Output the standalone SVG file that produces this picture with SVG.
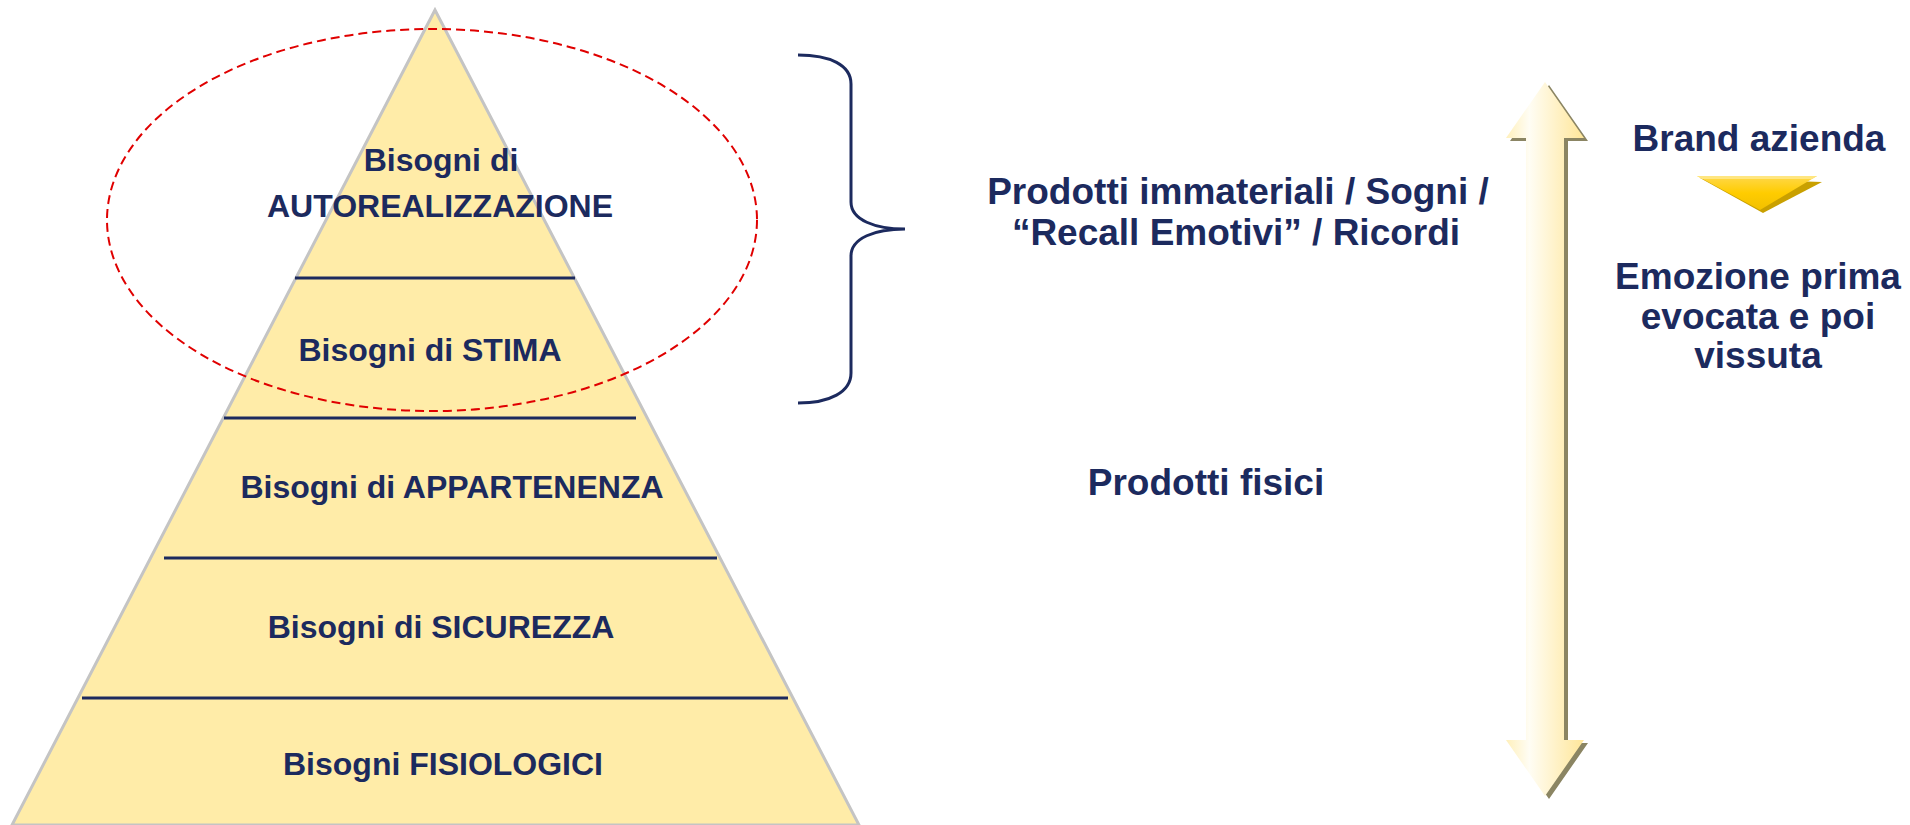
<svg xmlns="http://www.w3.org/2000/svg" width="1910" height="825" viewBox="0 0 1910 825">
<defs>
<style>
.t{font-family:"Liberation Sans",Arial,sans-serif;font-weight:bold;fill:#1c2a5e;text-anchor:middle}
.p{font-size:32px}
.r{font-size:37px}
.lv{stroke:#1c2a5e;stroke-width:3}
</style>
<linearGradient id="ag" x1="0" y1="0" x2="1" y2="0">
<stop offset="0" stop-color="#fff0bb"/>
<stop offset="0.3" stop-color="#fffdf4"/>
<stop offset="1" stop-color="#ffe699"/>
</linearGradient>
<linearGradient id="tg" x1="0" y1="0" x2="0" y2="1">
<stop offset="0" stop-color="#ffd84a"/>
<stop offset="0.5" stop-color="#ffcc00"/>
<stop offset="1" stop-color="#f2c000"/>
</linearGradient>
</defs>
<rect width="1910" height="825" fill="#ffffff"/>
<g id="pyramid">
<polygon points="435,10 12,825 859,825" fill="#ffeca8" stroke="#c4c4c4" stroke-width="3"/>
<line class="lv" x1="295" y1="278" x2="575" y2="278"/>
<line class="lv" x1="224" y1="418" x2="636" y2="418"/>
<line class="lv" x1="164" y1="558" x2="717" y2="558"/>
<line class="lv" x1="82" y1="698" x2="788" y2="698"/>
</g>
<g id="level-autorealizzazione">
<text class="t p" x="441" y="171">Bisogni di</text>
<text class="t p" x="440" y="217">AUTOREALIZZAZIONE</text>
</g>
<g id="level-stima"><text class="t p" x="430" y="361">Bisogni di STIMA</text></g>
<g id="level-appartenenza"><text class="t p" x="452" y="498">Bisogni di APPARTENENZA</text></g>
<g id="level-sicurezza"><text class="t p" x="441" y="638">Bisogni di SICUREZZA</text></g>
<g id="level-fisiologici"><text class="t p" x="443" y="775">Bisogni FISIOLOGICI</text></g>
<g id="ellipse-highlight">
<ellipse cx="432" cy="220" rx="325" ry="191" fill="none" stroke="#e00000" stroke-width="2" stroke-dasharray="9,5"/>
</g>
<g id="connectors">
<path d="M798,55 C830,55 851,65 851,84 L851,202 C851,220 875,229 905,229 C875,229 851,238 851,256 L851,373 C851,392 830,403 798,403" fill="none" stroke="#1c2a5e" stroke-width="3"/>
</g>
<g id="label-immateriali">
<text class="t r" x="1238" y="204">Prodotti immateriali / Sogni /</text>
<text class="t r" x="1236" y="245">“Recall Emotivi” / Ricordi</text>
</g>
<g id="label-fisici"><text class="t r" x="1206" y="495">Prodotti fisici</text></g>
<g id="double-arrow">
<polygon transform="translate(4,3)" points="1545,82 1584,138 1564,138 1564,740 1584,740 1545,796 1506,740 1526,740 1526,138 1506,138" fill="#8b8563"/>
<polygon points="1545,82 1584,138 1564,138 1564,740 1584,740 1545,796 1506,740 1526,740 1526,138 1506,138" fill="url(#ag)"/>
</g>
<g id="brand">
<text class="t r" x="1759" y="151">Brand azienda</text>
</g>
<g id="brand-triangle">
<polygon points="1700,178 1822,182 1763,213" fill="#c9a000"/>
<polygon points="1697,176 1817,176 1760,210" fill="url(#tg)"/>
<polygon points="1697,176 1817,176 1812,179 1702,179" fill="#ffe680"/>
</g>
<g id="emozione">
<text class="t r" x="1758" y="289">Emozione prima</text>
<text class="t r" x="1758" y="329">evocata e poi</text>
<text class="t r" x="1758" y="368">vissuta</text>
</g>
</svg>
